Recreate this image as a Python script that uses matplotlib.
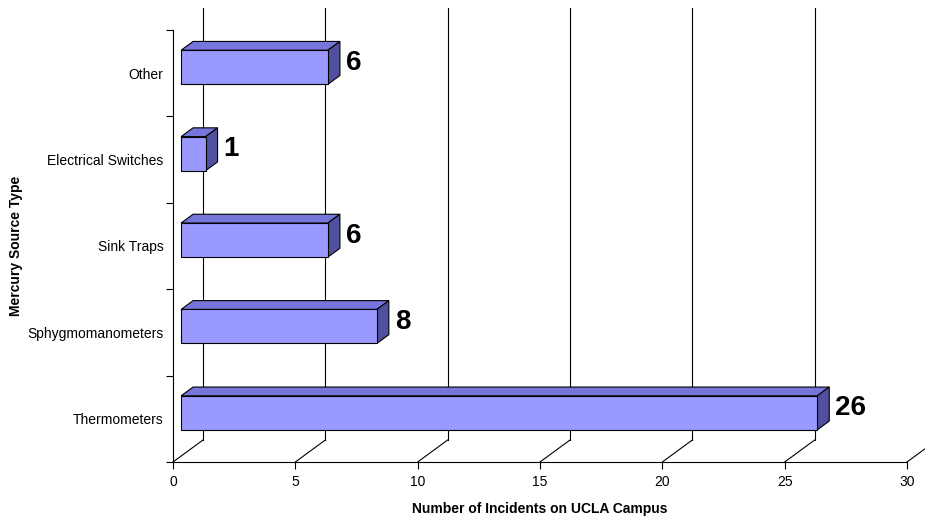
import matplotlib
matplotlib.use('Agg')
import matplotlib.pyplot as plt
from matplotlib.patches import Polygon

categories = ['Thermometers', 'Sphygmomanometers', 'Sink Traps', 'Electrical Switches', 'Other']
values = [26, 8, 6, 1, 6]
x_ticks = [0, 5, 10, 15, 20, 25, 30]

plt.rcParams['font.family'] = ['Liberation Sans', 'DejaVu Sans']

fig = plt.figure(figsize=(9.25, 5.21), dpi=100)
W, H = 925, 521
ax = fig.add_axes([173 / W, (H - 462) / H, (907 - 173) / W, (462 - 30) / H])
ax.set_xlim(0, 30)
ax.set_ylim(-0.5, len(categories) - 0.5)

# depth offset of the back wall, in data units
dxu = 30 / (734 / 30)
dyu = 22 / (432 / 5)

lw = 0.8
# back wall gridlines + floor diagonals
for v in x_ticks:
    ax.plot([v + dxu, v + dxu], [-0.5 + dyu, len(categories) - 0.5 + dyu],
            color='black', lw=lw, clip_on=False, zorder=1)
    ax.plot([v, v + dxu], [-0.5, -0.5 + dyu], color='black', lw=lw,
            clip_on=False, zorder=1)

f0, f1 = 0.27, 0.67
half = 0.197
front_c = '#9999FF'
top_c = '#7575DB'
side_c = '#50509E'

for i, (cat, v) in enumerate(zip(categories, values)):
    x0 = f0 * dxu
    y0 = i + f0 * dyu
    ox, oy = (f1 - f0) * dxu, (f1 - f0) * dyu
    xl, xr = x0, x0 + v
    yb, yt = y0 - half, y0 + half
    top = Polygon([(xl, yt), (xl + ox, yt + oy), (xr + ox, yt + oy), (xr, yt)],
                  closed=True, fc=top_c, ec='black', lw=lw, zorder=3)
    side = Polygon([(xr, yb), (xr + ox, yb + oy), (xr + ox, yt + oy), (xr, yt)],
                   closed=True, fc=side_c, ec='black', lw=lw, zorder=3)
    front = Polygon([(xl, yb), (xl, yt), (xr, yt), (xr, yb)],
                    closed=True, fc=front_c, ec='black', lw=lw, zorder=4)
    for p in (top, side, front):
        ax.add_patch(p)
    ax.text(xr + ox + 0.25, y0 + oy / 2, str(v), fontsize=20, fontweight='bold',
            ha='left', va='center', zorder=5, clip_on=False)

for s in ('top', 'right'):
    ax.spines[s].set_visible(False)
ax.spines['left'].set_linewidth(lw)
ax.spines['bottom'].set_linewidth(lw)

ax.set_xticks(x_ticks)
ax.set_xticklabels([str(t) for t in x_ticks], fontsize=10)
ax.tick_params(axis='x', direction='out', length=5, width=lw, pad=4)

ax.set_yticks(range(len(categories)))
ax.set_yticklabels(categories, fontsize=10)
ax.set_yticks([k - 0.5 for k in range(len(categories) + 1)], minor=True)
ax.tick_params(axis='y', which='major', length=0, pad=7)
ax.tick_params(axis='y', which='minor', direction='out', length=5, width=lw)

fig.text(540 / W, 1 - 509 / H, 'Number of Incidents on UCLA Campus',
         fontsize=10, fontweight='bold', ha='center', va='center')
fig.text(16 / W, 1 - 246 / H, 'Mercury Source Type', fontsize=10,
         fontweight='bold', rotation=90, ha='center', va='center')

fig.savefig('out.png', dpi=100)
